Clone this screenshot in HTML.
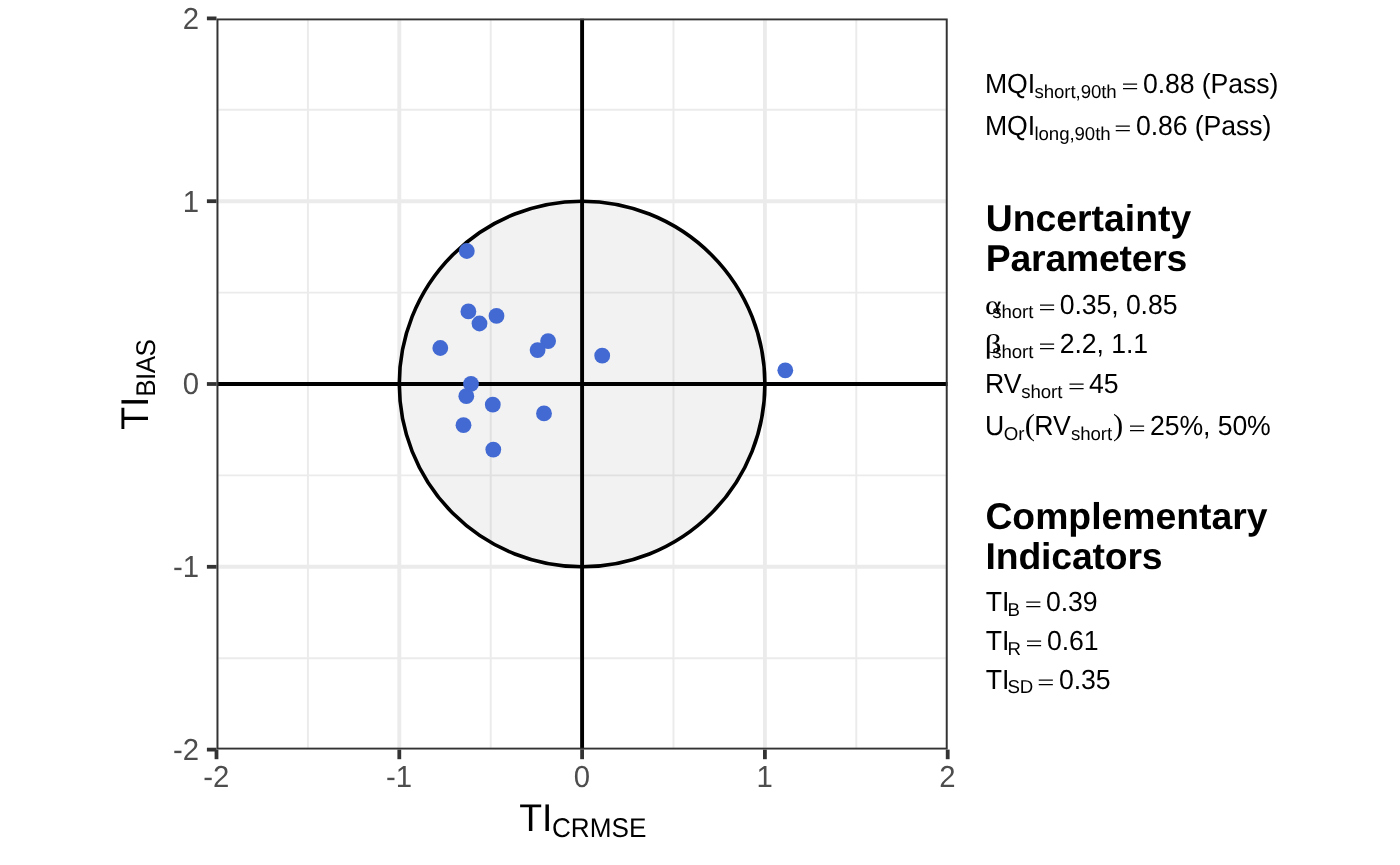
<!DOCTYPE html>
<html lang="en"><head><meta charset="utf-8"><title>Target plot</title>
<style>html,body{margin:0;padding:0;background:#fff}body{width:1400px;height:865px;overflow:hidden}svg{display:block}text{font-family:"Liberation Sans",sans-serif;text-rendering:geometricPrecision}.tk{font-size:29.33px;fill:#4D4D4D}.m{font-size:26.67px;fill:#000;letter-spacing:-0.1px}.s{font-size:18.67px;fill:#000;letter-spacing:-0.08px}.h{font-size:37.33px;font-weight:bold;fill:#000}.sym{font-family:"Liberation Serif","DejaVu Serif",serif}</style></head><body>
<svg width="1400" height="865" viewBox="0 0 1400 865">
<rect x="0" y="0" width="1400" height="865" fill="#fff"/>
<clipPath id="pc"><rect x="216.5" y="18.4" width="731.2" height="731.2"/></clipPath>
<g clip-path="url(#pc)">
<line x1="307.90" x2="307.90" y1="18.4" y2="749.6" stroke="#EBEBEB" stroke-width="1.94"/>
<line y1="658.20" y2="658.20" x1="216.5" x2="947.7" stroke="#EBEBEB" stroke-width="1.94"/>
<line x1="490.70" x2="490.70" y1="18.4" y2="749.6" stroke="#EBEBEB" stroke-width="1.94"/>
<line y1="475.40" y2="475.40" x1="216.5" x2="947.7" stroke="#EBEBEB" stroke-width="1.94"/>
<line x1="673.50" x2="673.50" y1="18.4" y2="749.6" stroke="#EBEBEB" stroke-width="1.94"/>
<line y1="292.60" y2="292.60" x1="216.5" x2="947.7" stroke="#EBEBEB" stroke-width="1.94"/>
<line x1="856.30" x2="856.30" y1="18.4" y2="749.6" stroke="#EBEBEB" stroke-width="1.94"/>
<line y1="109.80" y2="109.80" x1="216.5" x2="947.7" stroke="#EBEBEB" stroke-width="1.94"/>
<line x1="216.50" x2="216.50" y1="18.4" y2="749.6" stroke="#EBEBEB" stroke-width="3.88"/>
<line y1="749.60" y2="749.60" x1="216.5" x2="947.7" stroke="#EBEBEB" stroke-width="3.88"/>
<line x1="399.30" x2="399.30" y1="18.4" y2="749.6" stroke="#EBEBEB" stroke-width="3.88"/>
<line y1="566.80" y2="566.80" x1="216.5" x2="947.7" stroke="#EBEBEB" stroke-width="3.88"/>
<line x1="582.10" x2="582.10" y1="18.4" y2="749.6" stroke="#EBEBEB" stroke-width="3.88"/>
<line y1="384.00" y2="384.00" x1="216.5" x2="947.7" stroke="#EBEBEB" stroke-width="3.88"/>
<line x1="764.90" x2="764.90" y1="18.4" y2="749.6" stroke="#EBEBEB" stroke-width="3.88"/>
<line y1="201.20" y2="201.20" x1="216.5" x2="947.7" stroke="#EBEBEB" stroke-width="3.88"/>
<line x1="947.70" x2="947.70" y1="18.4" y2="749.6" stroke="#EBEBEB" stroke-width="3.88"/>
<line y1="18.40" y2="18.40" x1="216.5" x2="947.7" stroke="#EBEBEB" stroke-width="3.88"/>
<circle cx="582.10" cy="384.00" r="182.80" fill="#7F7F7F" fill-opacity="0.1" stroke="none"/>
<circle cx="582.10" cy="384.00" r="182.80" fill="none" stroke="#000" stroke-width="3.6"/>
<line x1="216.5" x2="947.7" y1="384.00" y2="384.00" stroke="#000" stroke-width="3.9"/>
<line y1="18.4" y2="749.6" x1="582.10" x2="582.10" stroke="#000" stroke-width="3.9"/>
<circle cx="466.8" cy="251.0" r="7.9" fill="#426AD2"/>
<circle cx="468.4" cy="311.4" r="7.9" fill="#426AD2"/>
<circle cx="479.5" cy="323.5" r="7.9" fill="#426AD2"/>
<circle cx="496.5" cy="315.9" r="7.9" fill="#426AD2"/>
<circle cx="548.1" cy="341.1" r="7.9" fill="#426AD2"/>
<circle cx="537.6" cy="350.1" r="7.9" fill="#426AD2"/>
<circle cx="440.3" cy="348.0" r="7.9" fill="#426AD2"/>
<circle cx="602.2" cy="355.7" r="7.9" fill="#426AD2"/>
<circle cx="471.0" cy="383.8" r="7.9" fill="#426AD2"/>
<circle cx="466.3" cy="396.2" r="7.9" fill="#426AD2"/>
<circle cx="492.8" cy="404.7" r="7.9" fill="#426AD2"/>
<circle cx="544.0" cy="413.4" r="7.9" fill="#426AD2"/>
<circle cx="463.5" cy="425.2" r="7.9" fill="#426AD2"/>
<circle cx="493.3" cy="449.6" r="7.9" fill="#426AD2"/>
<circle cx="785.3" cy="370.3" r="7.9" fill="#426AD2"/>
<rect x="216.5" y="18.4" width="731.2" height="731.2" fill="none" stroke="#333" stroke-width="3.88"/>
</g>
<line x1="216.50" x2="216.50" y1="749.6" y2="759.2" stroke="#333" stroke-width="3.8"/>
<line y1="749.60" y2="749.60" x1="206.9" x2="216.5" stroke="#333" stroke-width="3.8"/>
<line x1="399.30" x2="399.30" y1="749.6" y2="759.2" stroke="#333" stroke-width="3.8"/>
<line y1="566.80" y2="566.80" x1="206.9" x2="216.5" stroke="#333" stroke-width="3.8"/>
<line x1="582.10" x2="582.10" y1="749.6" y2="759.2" stroke="#333" stroke-width="3.8"/>
<line y1="384.00" y2="384.00" x1="206.9" x2="216.5" stroke="#333" stroke-width="3.8"/>
<line x1="764.90" x2="764.90" y1="749.6" y2="759.2" stroke="#333" stroke-width="3.8"/>
<line y1="201.20" y2="201.20" x1="206.9" x2="216.5" stroke="#333" stroke-width="3.8"/>
<line x1="947.70" x2="947.70" y1="749.6" y2="759.2" stroke="#333" stroke-width="3.8"/>
<line y1="18.40" y2="18.40" x1="206.9" x2="216.5" stroke="#333" stroke-width="3.8"/>
<text class="tk" transform="translate(216.20,786.8) scale(1,1.035)" text-anchor="middle">-2</text>
<text class="tk" transform="translate(199.1,760.00) scale(1,1.035)" text-anchor="end">-2</text>
<text class="tk" transform="translate(399.00,786.8) scale(1,1.035)" text-anchor="middle">-1</text>
<text class="tk" transform="translate(199.1,577.20) scale(1,1.035)" text-anchor="end">-1</text>
<text class="tk" transform="translate(581.80,786.8) scale(1,1.035)" text-anchor="middle">0</text>
<text class="tk" transform="translate(199.1,394.40) scale(1,1.035)" text-anchor="end">0</text>
<text class="tk" transform="translate(764.60,786.8) scale(1,1.035)" text-anchor="middle">1</text>
<text class="tk" transform="translate(199.1,211.60) scale(1,1.035)" text-anchor="end">1</text>
<text class="tk" transform="translate(947.40,786.8) scale(1,1.035)" text-anchor="middle">2</text>
<text class="tk" transform="translate(199.1,28.80) scale(1,1.035)" text-anchor="end">2</text>
<text transform="translate(519.3,830.5) scale(1,1.035)" style="font-size:37.33px">TI</text>
<text transform="translate(552.0,836.5) scale(1,1.035)" style="font-size:26.13px">CRMSE</text>
<g transform="translate(148.0,429.8) rotate(-90)"><text transform="scale(1,1.035)" style="font-size:37.33px">TI</text><text transform="translate(33,6.9) scale(1,1.035)" style="font-size:26.13px;letter-spacing:-0.6px">BIAS</text></g>
<text class="m" transform="translate(985,93.1) scale(1,1.035)">MQI</text>
<text class="s" x="1034.5" y="97.7">short,90th</text>
<text transform="translate(1121.38,94.10) scale(1.318,1)" class="sym" style="font-size:23px">=</text>
<text class="m" transform="translate(1143,93.1) scale(1,1.035)">0.88 (Pass)</text>
<text class="m" transform="translate(985,135.2) scale(1,1.035)">MQI</text>
<text class="s" x="1034.5" y="139.8">long,90th</text>
<text transform="translate(1114.28,136.20) scale(1.318,1)" class="sym" style="font-size:23px">=</text>
<text class="m" transform="translate(1136,135.2) scale(1,1.035)">0.86 (Pass)</text>
<text class="h" x="985.8" y="230.5">Uncertainty</text>
<text class="h" x="985.8" y="270.9" style="letter-spacing:-0.2px">Parameters</text>
<text transform="translate(984.90,313.60) scale(1.17,1)" class="sym" style="font-size:27px">α</text>
<text class="s" x="992.2" y="318.3">short</text>
<text transform="translate(1038.48,314.60) scale(1.318,1)" class="sym" style="font-size:23px">=</text>
<text class="m" transform="translate(1059.8,313.6) scale(1,1.035)">0.35, 0.85</text>
<text transform="translate(984.78,352.90) scale(1.22,1)" class="sym" style="font-size:27.15px">β</text>
<text class="s" x="992.2" y="357.6">short</text>
<text transform="translate(1038.48,353.90) scale(1.318,1)" class="sym" style="font-size:23px">=</text>
<text class="m" transform="translate(1059.8,352.9) scale(1,1.035)">2.2, 1.1</text>
<text class="m" transform="translate(985,392.9) scale(1,1.035)">RV</text>
<text class="s" x="1021.2" y="397.6">short</text>
<text transform="translate(1068.08,393.90) scale(1.318,1)" class="sym" style="font-size:23px">=</text>
<text class="m" transform="translate(1089,392.9) scale(1,1.035)">45</text>
<text class="m" transform="translate(985,435.3) scale(1,1.035)">U</text>
<text class="s" x="1003.8" y="440">Or</text>
<text transform="translate(1024.75,435.30) scale(1,1)" class="sym" style="font-size:30.65px">(</text>
<text class="m" transform="translate(1034.3,435.3) scale(1,1.035)">RV</text>
<text class="s" x="1071" y="440">short</text>
<text transform="translate(1112.92,435.30) scale(1,1)" class="sym" style="font-size:30.65px">)</text>
<text transform="translate(1128.48,436.30) scale(1.318,1)" class="sym" style="font-size:23px">=</text>
<text class="m" transform="translate(1150,435.3) scale(1,1.035)">25%, 50%</text>
<text class="h" x="985.4" y="528.6">Complementary</text>
<text class="h" x="985.6" y="569" style="letter-spacing:-0.15px">Indicators</text>
<text class="m" transform="translate(985.7,611.2) scale(1,1.035)">TI</text>
<text class="s" x="1007.5" y="615.8">B</text>
<text transform="translate(1024.78,612.20) scale(1.318,1)" class="sym" style="font-size:23px">=</text>
<text class="m" transform="translate(1046,611.2) scale(1,1.035)">0.39</text>
<text class="m" transform="translate(985.7,650) scale(1,1.035)">TI</text>
<text class="s" x="1007.5" y="654.6">R</text>
<text transform="translate(1025.48,651.00) scale(1.318,1)" class="sym" style="font-size:23px">=</text>
<text class="m" transform="translate(1047,650) scale(1,1.035)">0.61</text>
<text class="m" transform="translate(985.7,688.8) scale(1,1.035)">TI</text>
<text class="s" x="1007.5" y="693.4">SD</text>
<text transform="translate(1037.28,689.80) scale(1.318,1)" class="sym" style="font-size:23px">=</text>
<text class="m" transform="translate(1059,688.8) scale(1,1.035)">0.35</text>
</svg></body></html>
